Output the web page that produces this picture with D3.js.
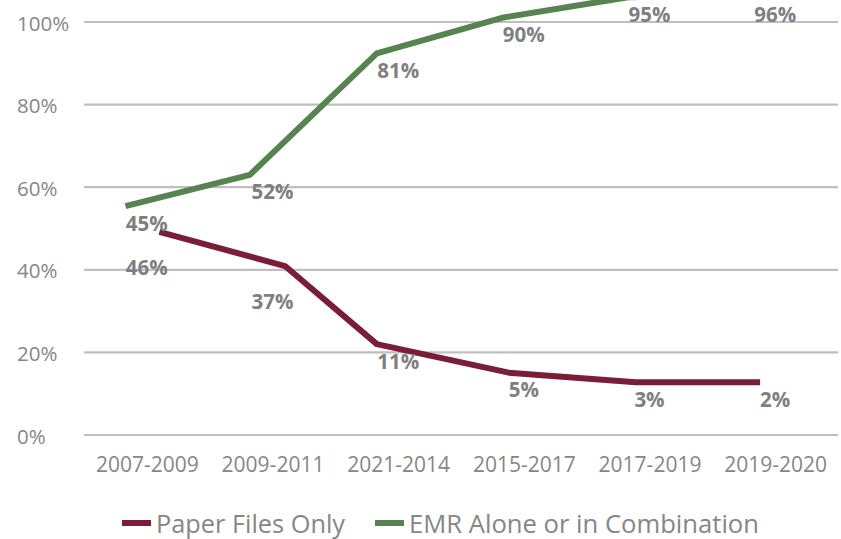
<!DOCTYPE html>
<html>
<head>
<meta charset="utf-8">
<script src="https://cdn.jsdelivr.net/npm/d3@7"></script>
<style>
  body { margin: 0; background: #fff; }
  svg { display: block; font-family: "Open Sans", sans-serif; }
</style>
</head>
<body>
<div class="chart"></div>
<script>
// Categories along the bottom
var periods = ["2007-2009", "2009-2011", "2021-2014", "2015-2017", "2017-2019", "2019-2020"];

// Where each line is drawn (in % units)
var paperPlotted = [49.2, 40.9, 22.0, 15.1, 12.8, 12.8];
var emrPlotted = [55.4, 63.0, 92.4, 101.1, 106.0, 106.5];

// Where along the category axis each point sits (category index)
var paperAt = [0.10, 1.10, 1.83, 2.88, 3.89, 4.88];
var emrAt = [-0.17, 0.82, 1.83, 2.84, 3.83, 4.82];

// Data label values printed on the chart
var paperLabels = [46, 37, 11, 5, 3, 2];
var emrLabels = [45, 52, 81, 90, 95, 96];

// Y axis ticks
var yTicks = [0, 20, 40, 60, 80, 100];

var seriesNames = ["Paper Files Only", "EMR Alone or in Combination"];
var seriesColors = ["#7a1e37", "#56834f"];

// SVG area
var svgWidth = 841;
var svgHeight = 539;

var plot = { left: 84, right: 838, top: 22, bottom: 435 };

var svg = d3.select(".chart")
  .append("svg")
  .attr("width", svgWidth)
  .attr("height", svgHeight);

// scales
var xScale = d3.scaleLinear()
  .domain([-0.5, periods.length - 0.5])
  .range([plot.left, plot.right]);

var yScale = d3.scaleLinear()
  .domain([0, 100])
  .range([plot.bottom, plot.top]);

// gridlines
svg.append("g")
  .selectAll("line")
  .data(yTicks)
  .enter()
  .append("line")
  .attr("x1", plot.left)
  .attr("x2", plot.right)
  .attr("y1", d => yScale(d))
  .attr("y2", d => yScale(d))
  .attr("stroke", "#bfbfbf")
  .attr("stroke-width", 2.2);

// y tick labels (left aligned like the original)
svg.append("g")
  .selectAll("text")
  .data(yTicks)
  .enter()
  .append("text")
  .attr("x", 17)
  .attr("y", d => yScale(d))
  .attr("dy", "0.42em")
  .attr("fill", "#868686")
  .style("font-size", "20.5px")
  .text(d => d + "%");

// x axis labels
var xAxis = d3.axisBottom(xScale)
  .tickValues(d3.range(periods.length))
  .tickFormat(i => periods[i])
  .tickSize(0)
  .tickPadding(0);

var xAxisG = svg.append("g")
  .attr("transform", `translate(0, ${plot.bottom})`)
  .call(xAxis);

xAxisG.select(".domain").remove();
xAxisG.selectAll("text")
  .attr("y", 37)
  .attr("dy", 0)
  .attr("fill", "#868686")
  .style("font-family", "Open Sans")
  .style("font-size", "21px");

// lines
var series = [
  { name: seriesNames[0], color: seriesColors[0], at: paperAt, values: paperPlotted, labels: paperLabels },
  { name: seriesNames[1], color: seriesColors[1], at: emrAt, values: emrPlotted, labels: emrLabels }
];

var line = d3.line()
  .x(d => xScale(d.at))
  .y(d => yScale(d.v));

series.forEach(function (s) {
  var pts = s.values.map((v, i) => ({ v: v, at: s.at[i] }));
  svg.append("path")
    .datum(pts)
    .attr("d", line)
    .attr("fill", "none")
    .attr("stroke", s.color)
    .attr("stroke-width", 6)
    .attr("stroke-linejoin", "round");
});

// data labels, sitting under each point at the category centre
series.forEach(function (s, si) {
  svg.append("g")
    .selectAll("text")
    .data(s.labels)
    .enter()
    .append("text")
    .attr("x", (d, i) => xScale(i))
    .attr("y", function (d, i) {
      // the first two paper labels are pushed further down in the original
      var drop = (si === 0 && i < 2) ? 36 : 17;
      // keep the top labels inside the picture
      return Math.max(yScale(s.values[i]) + drop, 15);
    })
    .attr("dy", "0.36em")
    .attr("text-anchor", "middle")
    .attr("fill", "#7f7f7f")
    .style("font-size", "20.5px")
    .style("font-weight", "bold")
    .text(d => d + "%");
});

// legend
var legendX = [122, 375];
var legendTextWidth = [189, 350];
var legend = svg.append("g")
  .selectAll("g")
  .data(series)
  .enter()
  .append("g")
  .attr("transform", (d, i) => `translate(${legendX[i]}, 523)`);

legend.append("line")
  .attr("x1", 0)
  .attr("x2", 29)
  .attr("stroke", d => d.color)
  .attr("stroke-width", 6);

legend.append("text")
  .attr("x", 34)
  .attr("y", 10)
  .attr("fill", "#868686")
  .attr("textLength", (d, i) => legendTextWidth[i])
  .attr("lengthAdjust", "spacingAndGlyphs")
  .style("font-size", "25.5px")
  .text(d => d.name);
</script>
</body>
</html>
